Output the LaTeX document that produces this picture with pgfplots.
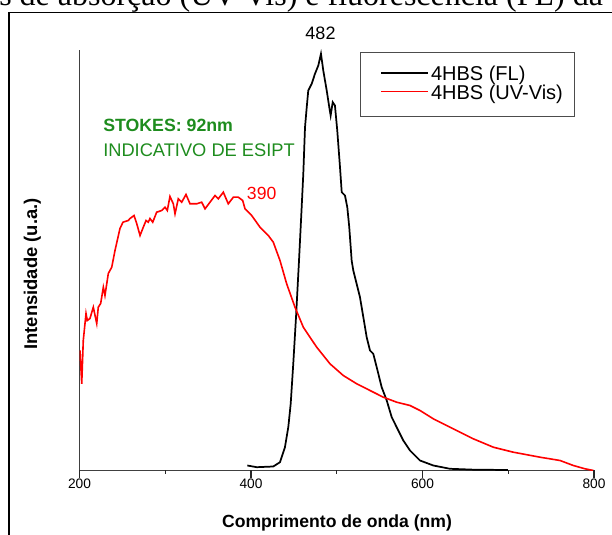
\documentclass[border=0pt]{standalone}
\usepackage{pgfplots}
\pgfplotsset{compat=1.18}
\usepackage{fontspec}
\setmainfont{Liberation Sans}
\newfontfamily\titlefont{Liberation Serif}
\definecolor{stokesgreen}{RGB}{30,140,30}
\begin{document}
\begin{tikzpicture}[x=0.75pt,y=0.75pt]
\useasboundingbox (0,0) rectangle (612,535);
% cropped caption line and page frame
\begin{scope}
\clip (0,0) rectangle (612,535);
\node[anchor=base west, inner sep=0pt, font=\titlefont\fontsize{24}{26}\selectfont] at (-1,529) {s de absorção (UV-Vis) e fluorescência (FL) da};
\end{scope}
\draw[line width=1.1pt] (9,0) -- (9,522.7) -- (612,522.7);
\begin{axis}[
  at={(59.625pt,48.375pt)}, anchor=south west,
  scale only axis, width=385.875pt, height=315.375pt,
  xmin=200, xmax=800, ymin=0, ymax=420.5,
  axis x line=bottom, axis y line=left,
  axis line style={-, black!75, line width=0.8pt},
  xtick={200,400,600,800},
  ytick=\empty,
  major tick length=0pt, minor tick length=0pt,
  /pgf/number format/assume math mode=true,
  xticklabel style={font=\fontsize{10.3}{12}\selectfont, yshift=-3pt},
  legend style={at={(axis description cs:0.545,0.996)}, anchor=north west,
    draw=black!70, line width=0.6pt, font=\fontsize{15}{17}\selectfont,
    nodes={inner xsep=1.5pt, inner ysep=0pt, text depth=0.2em, minimum height=0pt},
    row sep=1.2pt, inner xsep=7pt, inner ysep=7.5pt, minimum height=48pt},
  legend cell align=left,
  legend image code/.code={\path (-8pt,0pt); \draw[#1, line width=1.3pt] (0pt,0.15em) -- (35.25pt,0.15em);},
]
\addplot[black, line width=1.3pt] coordinates {
(395.7,5) (406.7,3.3) (426.0,4) (433.8,8.3) (439.6,23.3) (443.5,43.3) (446.3,66.7)
(449.3,106.7) (452.5,153.3) (456.0,210) (459.1,263.3) (461.0,296.7) (463.0,343.3)
(465.0,363.3) (466.8,380) (470.8,386.7) (474.6,396.7) (478.5,405) (481.6,416.7)
(484.3,400) (488.3,380) (491.3,363.3) (492.9,355) (495.3,368.3) (497.9,365)
(500.6,340) (503.8,303.3) (505.8,278.3) (509.6,275) (512.3,263.3) (514.6,243.3)
(517.4,210) (519.3,200) (523.2,186.7) (527.1,173.3) (531.0,153.3) (534.9,133.3)
(538.8,120) (542.6,116.7) (546.6,103.3) (552.4,83.3) (558.3,70) (564.1,53.3)
(569.9,43.3) (577.6,30) (585.4,20) (597.1,10) (612.6,5) (632.1,1.7) (660,0.8) (699.7,0.5)
};
\addlegendentry{4HBS (FL)}
\addplot[red, line width=1.2pt] coordinates {
(200.6,120) (202.6,86.7) (204.4,130) (207.6,157) (209.1,150) (212.2,152) (216.1,163.3)
(220.1,147) (221.9,163.3) (224.7,167) (227.8,183.3) (229.7,175) (233.6,197)
(237.6,203.3) (241.4,220) (247.2,242) (250.7,248.3) (256.9,250) (258.9,252)
(263.6,255) (266.7,247) (270.6,235) (274.4,243.3) (277.6,250) (280.2,248.3)
(282.2,252) (285.4,248.3) (290.0,258.3) (295.9,260) (299.7,263.3) (302.4,260)
(305.5,274) (309.4,266.7) (311.4,256.7) (315.2,271.7) (319.2,268.3) (324.2,276)
(328.9,266.7) (336.7,266.7) (342.5,268.3) (346.4,261.7) (352.2,268.3) (358.1,275)
(361.9,271.7) (367.7,278.3) (373.5,266.7) (379.4,273.3) (385.2,273.3) (390.3,270)
(393.0,261.7) (400.8,255) (410.5,243.3) (420.2,235) (426.0,228.3) (433.8,210)
(441.6,186.7) (451.3,163.3) (461.0,143.3) (476.6,123.3) (492.1,106.7) (507.6,95)
(523.3,86.7) (538.8,80) (554.3,73.3) (569.9,68.3) (585.4,65) (597.1,60)
(612.6,51.7) (628.2,45) (643.7,38.3) (659.2,31.7) (682.6,23.3) (705.9,18.3)
(737.0,13.3) (760.4,10) (775.9,5) (789.5,1.7) (799.5,0)
};
\addlegendentry{4HBS (UV-Vis)}
\end{axis}
% x-axis tick marks (major at 200,400,600,800; minor at 300,500,700)
\draw[black!85, line width=1pt] (79.5,64.5) -- (79.5,57);
\draw[black!85, line width=1pt] (251,64.5) -- (251,57);
\draw[black!85, line width=1pt] (422.5,64.5) -- (422.5,57);
\draw[black!85, line width=1pt] (594,64.5) -- (594,57);
\draw[black!85, line width=1pt] (165.25,64.5) -- (165.25,60.5);
\draw[black!85, line width=1pt] (336.75,64.5) -- (336.75,60.5);
\draw[black!85, line width=1pt] (508.25,64.5) -- (508.25,60.5);
% labels and annotations
\node[anchor=base, inner sep=0pt, font=\bfseries\fontsize{13.2}{15}\selectfont] at (337,7) {Comprimento de onda (nm)};
\node[anchor=base, rotate=90, inner sep=0pt, font=\bfseries\fontsize{13.8}{15}\selectfont] at (37,261) {Intensidade (u.a.)};
\node[anchor=base west, inner sep=0pt, text=stokesgreen, font=\bfseries\fontsize{13.3}{15}\selectfont] at (103,403) {STOKES: 92nm};
\node[anchor=base west, inner sep=0pt, text=stokesgreen, font=\fontsize{13.7}{15}\selectfont] at (103,378) {INDICATIVO DE ESIPT};
\node[anchor=base, inner sep=0pt, font=\fontsize{13.5}{15}\selectfont] at (320.5,495) {482};
\node[anchor=base west, inner sep=0pt, text=red, font=\fontsize{13.2}{15}\selectfont] at (246.7,335) {390};
\end{tikzpicture}
\end{document}
